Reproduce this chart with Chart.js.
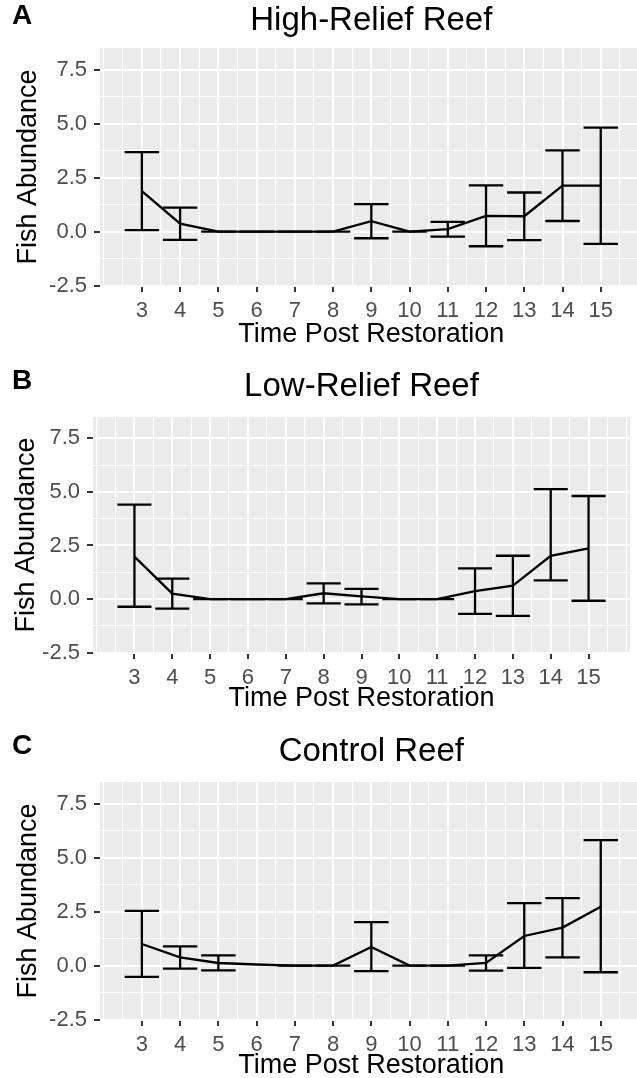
<!DOCTYPE html>
<html lang="en">
<head>
<meta charset="UTF-8">
<title>Fish abundance after restoration</title>
<script src="https://cdn.jsdelivr.net/npm/chart.js@4"></script>
<style>
  html, body { margin: 0; padding: 0; background: #fff; }
  body { width: 637px; height: 1078px; overflow: hidden; position: relative; }
  canvas { position: absolute; left: 0; }
</style>
</head>
<body>
<canvas id="chartA"></canvas>
<canvas id="chartB"></canvas>
<canvas id="chartC"></canvas>
<script>
// Years after restoration
const timePoints = [3, 4, 5, 6, 7, 8, 9, 10, 11, 12, 13, 14, 15];

// High-relief reef
const highMean  = [1.87, 0.37, 0, 0, 0, 0, 0.48, 0, 0.11, 0.73, 0.71, 2.13, 2.13];
const highLower = [0.07, -0.38, 0, 0, 0, 0, -0.31, 0, -0.23, -0.68, -0.40, 0.49, -0.57];
const highUpper = [3.68, 1.11, 0, 0, 0, 0, 1.27, 0, 0.45, 2.14, 1.81, 3.76, 4.81];

// Low-relief reef
const lowMean  = [1.98, 0.25, 0, 0, 0, 0.27, 0.12, 0, 0, 0.37, 0.63, 2.02, 2.37];
const lowLower = [-0.36, -0.45, 0, 0, 0, -0.20, -0.25, 0, 0, -0.69, -0.79, 0.87, -0.08];
const lowUpper = [4.41, 0.95, 0, 0, 0, 0.73, 0.47, 0, 0, 1.43, 2.02, 5.13, 4.81];

// Control reef
const ctrlMean  = [1.00, 0.38, 0.12, 0.05, 0, 0, 0.86, 0, 0, 0.12, 1.37, 1.76, 2.72];
const ctrlLower = [-0.52, -0.14, -0.22, null, 0, 0, -0.26, 0, 0, -0.23, -0.11, 0.38, -0.31];
const ctrlUpper = [2.53, 0.89, 0.47, null, 0, 0, 2.01, 0, 0, 0.47, 2.89, 3.12, 5.81];

// Tick labels
const xTickLabels = ["3", "4", "5", "6", "7", "8", "9", "10", "11", "12", "13", "14", "15"];
const yTickValues = [-2.5, 0, 2.5, 5, 7.5];
const yTickLabels = ["-2.5", "0.0", "2.5", "5.0", "7.5"];

const FONT = '"Liberation Sans", Arial, Helvetica, sans-serif';
const X_MIN = 1.905, X_MAX = 16.095;
const Y_MIN = -2.52, Y_MAX = 8.5;
const BAR_WIDTH = 0.9;

// grid lines: majors on labelled ticks, minors halfway
const xGrid = [];
for (let v = 2; v <= 16; v += 0.5) xGrid.push(v);
const yGrid = [-2.5, -1.25, 0, 1.25, 2.5, 3.75, 5, 6.25, 7.5];

const isXMajor = (v) => timePoints.includes(v);
const isYMajor = (v) => yTickValues.includes(v);

// grey panel behind the grid
const panelBg = {
  id: "panelBg",
  beforeDraw(chart) {
    const a = chart.chartArea;
    const ctx = chart.ctx;
    ctx.save();
    ctx.fillStyle = "#EBEBEB";
    ctx.fillRect(a.left, a.top, a.right - a.left, a.bottom - a.top);
    ctx.restore();
  }
};

// vertical error bars with caps, placed through the chart scales
const errorBars = {
  id: "errorBars",
  afterDatasetsDraw(chart, args, opts) {
    const xs = chart.scales.x, ys = chart.scales.y;
    const ctx = chart.ctx;
    ctx.save();
    ctx.strokeStyle = "#000";
    ctx.lineWidth = 2.3;
    ctx.lineCap = "butt";
    opts.x.forEach((t, i) => {
      const lo = opts.lower[i], hi = opts.upper[i];
      if (lo === null || hi === null) return;
      const px = xs.getPixelForValue(t);
      const pl = xs.getPixelForValue(t - BAR_WIDTH / 2);
      const pr = xs.getPixelForValue(t + BAR_WIDTH / 2);
      const pLo = ys.getPixelForValue(lo);
      const pHi = ys.getPixelForValue(hi);
      ctx.beginPath();
      ctx.moveTo(px, pLo); ctx.lineTo(px, pHi);
      ctx.moveTo(pl, pHi); ctx.lineTo(pr, pHi);
      ctx.moveTo(pl, pLo); ctx.lineTo(pr, pLo);
      ctx.stroke();
    });
    ctx.restore();
  }
};

// panel letter in the top left corner
const tagLabel = {
  id: "tagLabel",
  afterDraw(chart, args, opts) {
    const ctx = chart.ctx;
    ctx.save();
    ctx.fillStyle = "#000";
    ctx.font = "bold 28px " + FONT;
    ctx.textBaseline = "alphabetic";
    ctx.textAlign = "left";
    ctx.fillText(opts.text, opts.x, opts.y);
    ctx.restore();
  }
};

function drawPanel(id, lay, titleText, tag, mean, lower, upper) {
  const canvas = document.getElementById(id);
  canvas.width = lay.width;
  canvas.height = lay.height;
  canvas.style.top = lay.top + "px";
  const rel = (v) => v - lay.top;

  const titleLine = 33 * 1.2;
  const titlePadTop = rel(lay.titleY) - titleLine / 2;
  const titlePadBottom = rel(lay.panelTop) - titlePadTop - titleLine;
  const axisLine = 27 * 1.2;
  const xAxisHeight = lay.height - rel(lay.panelBottom);
  const xTitlePad = lay.height - axisLine / 2 - rel(lay.xTitleY);
  const yTitlePad = lay.yTitleX - axisLine / 2;

  new Chart(canvas.getContext("2d"), {
    type: "line",
    data: {
      datasets: [{
        data: timePoints.map((t, i) => ({ x: t, y: mean[i] })),
        borderColor: "#000",
        borderWidth: 2.3,
        pointRadius: 0,
        tension: 0,
        fill: false
      }]
    },
    options: {
      responsive: false,
      animation: false,
      devicePixelRatio: 1,
      layout: { padding: { top: 0, left: 0, right: lay.width - lay.panelRight, bottom: 0 } },
      plugins: {
        legend: { display: false },
        tooltip: { enabled: false },
        title: {
          display: true,
          text: titleText,
          fullSize: false,
          color: "#000",
          font: { family: FONT, size: 33, weight: "normal" },
          padding: { top: titlePadTop, bottom: titlePadBottom }
        },
        errorBars: { x: timePoints, lower: lower, upper: upper },
        tagLabel: { text: tag, x: 12, y: rel(lay.tagY) }
      },
      scales: {
        x: {
          type: "linear",
          min: X_MIN,
          max: X_MAX,
          afterBuildTicks: (s) => { s.ticks = xGrid.map((v) => ({ value: v })); },
          afterFit: (s) => { s.height = xAxisHeight; },
          border: { display: false },
          grid: {
            color: "#FFFFFF",
            lineWidth: (c) => (c.tick && isXMajor(c.tick.value) ? 2 : 1.1),
            drawTicks: true,
            tickLength: 6,
            tickWidth: 2,
            tickColor: (c) => (c.tick && isXMajor(c.tick.value) ? "#333333" : "rgba(0,0,0,0)")
          },
          ticks: {
            autoSkip: false,
            maxRotation: 0,
            minRotation: 0,
            padding: 6,
            color: "#4D4D4D",
            font: { family: FONT, size: 22 },
            callback: (v) => {
              const i = timePoints.indexOf(v);
              return i >= 0 ? xTickLabels[i] : "";
            }
          },
          title: {
            display: true,
            text: "Time Post Restoration",
            color: "#000",
            font: { family: FONT, size: 27 },
            padding: { top: 0, bottom: xTitlePad }
          }
        },
        y: {
          type: "linear",
          min: Y_MIN,
          max: Y_MAX,
          afterBuildTicks: (s) => { s.ticks = yGrid.map((v) => ({ value: v })); },
          afterFit: (s) => { s.width = lay.panelLeft; },
          border: { display: false },
          grid: {
            color: "#FFFFFF",
            lineWidth: (c) => (c.tick && isYMajor(c.tick.value) ? 2 : 1.1),
            drawTicks: true,
            tickLength: 6,
            tickWidth: 2,
            tickColor: (c) => (c.tick && isYMajor(c.tick.value) ? "#333333" : "rgba(0,0,0,0)")
          },
          ticks: {
            autoSkip: false,
            padding: 7,
            color: "#4D4D4D",
            font: { family: FONT, size: 22 },
            callback: (v) => {
              const i = yTickValues.indexOf(v);
              return i >= 0 ? yTickLabels[i] : "";
            }
          },
          title: {
            display: true,
            text: "Fish Abundance",
            color: "#000",
            font: { family: FONT, size: 27 },
            padding: { top: yTitlePad, bottom: 0 }
          }
        }
      }
    },
    plugins: [panelBg, errorBars, tagLabel]
  });
}

drawPanel("chartA",
  { top: 0, width: 645, height: 372, titleY: 21, tagY: 24, panelTop: 48, panelBottom: 286,
    panelLeft: 100, panelRight: 645, xTitleY: 335, yTitleX: 29 },
  "High-Relief Reef", "A", highMean, highLower, highUpper);

drawPanel("chartB",
  { top: 359, width: 637, height: 372, titleY: 387, tagY: 389, panelTop: 417, panelBottom: 653,
    panelLeft: 93, panelRight: 630, xTitleY: 699, yTitleX: 27 },
  "Low-Relief Reef", "B", lowMean, lowLower, lowUpper);

drawPanel("chartC",
  { top: 718, width: 645, height: 372, titleY: 752, tagY: 754, panelTop: 782, panelBottom: 1020,
    panelLeft: 100, panelRight: 645, xTitleY: 1066, yTitleX: 29 },
  "Control Reef", "C", ctrlMean, ctrlLower, ctrlUpper);
</script>
</body>
</html>
